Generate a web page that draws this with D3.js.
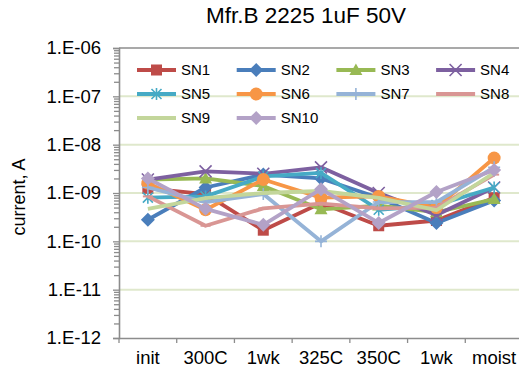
<!DOCTYPE html>
<html><head><meta charset="utf-8">
<script src="https://cdn.jsdelivr.net/npm/d3@7"></script>
<style>html,body{margin:0;padding:0;background:#fff;}svg{display:block;font-family:"Liberation Sans",Arial,sans-serif;}</style>
</head><body>
<script>
const title = "Mfr.B 2225 1uF 50V";
const yTitle = "current, A";
const categories = ["init","300C","1wk","325C","350C","1wk","moist"];
const yTickValues = [1e-12,1e-11,1e-10,1e-9,1e-8,1e-7,1e-6];
const yTickLabels = ["1.E-12","1.E-11","1.E-10","1.E-09","1.E-08","1.E-07","1.E-06"];
const seriesNames = ["SN1","SN2","SN3","SN4","SN5","SN6","SN7","SN8","SN9","SN10"];
const SN1  = [1.25e-9, 9.5e-10, 1.7e-10, 6.2e-10, 2.1e-10, 2.7e-10, 8.0e-10];
const SN2  = [2.8e-10, 1.3e-9, 2.4e-9, 2.0e-9, 8.0e-10, 2.4e-10, 7.0e-10];
const SN3  = [1.9e-9, 2.0e-9, 1.4e-9, 4.6e-10, 5.5e-10, 4.0e-10, 7.5e-10];
const SN4  = [1.9e-9, 2.8e-9, 2.5e-9, 3.4e-9, 1.0e-9, 3.5e-10, 1.3e-9];
const SN5  = [8.0e-10, 8.5e-10, 2.2e-9, 2.6e-9, 4.5e-10, 5.6e-10, 1.3e-9];
const SN6  = [1.6e-9, 4.5e-10, 1.9e-9, 8.0e-10, 8.5e-10, 5.0e-10, 5.3e-9];
const SN7  = [1.3e-9, 6.5e-10, 9.5e-10, 1.0e-10, 6.5e-10, 6.5e-10, 3.4e-9];
const SN8  = [8.5e-10, 2.1e-10, 4.8e-10, 6.0e-10, 4.8e-10, 5.0e-10, 2.4e-9];
const SN9  = [4.7e-10, 7.8e-10, 1.0e-9, 1.1e-9, 7.9e-10, 4.4e-10, 2.6e-9];
const SN10 = [2.0e-9, 4.7e-10, 2.2e-10, 1.2e-9, 2.4e-10, 1.05e-9, 3.0e-9];
const seriesValues = [SN1,SN2,SN3,SN4,SN5,SN6,SN7,SN8,SN9,SN10];
const colors = ["#BE4B48","#4A7EBB","#98B954","#7D60A0","#46AAC5","#F79646","#95B3D7","#D99694","#C3D69B","#B3A2C7"];
const markers = ["square","diamond","triangle","x","star","circle","plus","dash","none","diamond"];

const W = 519, H = 375;
const svg = d3.select("body").append("svg").attr("width", W).attr("height", H);

const pLeft = 119, pRight = 523, pTop = 48, pBottom = 338;
const x = d3.scaleBand().domain(d3.range(categories.length)).range([pLeft, pRight]);
const y = d3.scaleLog().domain([1e-12, 1e-6]).range([pBottom, pTop]);

// gridlines
svg.append("g").selectAll("line").data(yTickValues.filter(v => v > 1e-12 && v < 1e-6)).join("line")
  .attr("x1", pLeft).attr("x2", pRight).attr("y1", d => y(d)).attr("y2", d => y(d))
  .attr("stroke", "#dfe8cc").attr("stroke-width", 2);
// top border
svg.append("line").attr("x1", pLeft).attr("x2", pRight).attr("y1", y(1e-6)).attr("y2", y(1e-6))
  .attr("stroke", "#8c8c8c").attr("stroke-width", 1.3);

// minor ticks
const minor = [];
for (let e = -12; e < -6; e++) for (let m = 2; m <= 9; m++) minor.push(m * Math.pow(10, e));
const yMinor = svg.append("g").attr("transform", `translate(${pLeft},0)`)
  .call(d3.axisLeft(y).tickValues(minor).tickSize(5).tickFormat(""));
yMinor.select(".domain").remove();
yMinor.selectAll("line").attr("stroke", "#8c8c8c").attr("stroke-width", 1.3);

// y axis
const yAxis = svg.append("g").attr("transform", `translate(${pLeft},0)`)
  .call(d3.axisLeft(y).tickValues(yTickValues).tickSize(6).tickPadding(12)
    .tickFormat((d, i) => yTickLabels[i]));
yAxis.select(".domain").attr("stroke", "#8c8c8c").attr("stroke-width", 1.6);
yAxis.selectAll("line").attr("stroke", "#8c8c8c").attr("stroke-width", 1.3);
yAxis.selectAll("text").attr("font-size", 18.5).attr("fill", "#000")
  .attr("font-family", "Liberation Sans, Arial, sans-serif");

// x axis
const xAxis = svg.append("g").attr("transform", `translate(0,${pBottom})`)
  .call(d3.axisBottom(x).tickSize(0).tickPadding(13).tickFormat(i => categories[i]));
xAxis.select(".domain").attr("stroke", "#8c8c8c").attr("stroke-width", 1.6);
xAxis.selectAll("text").attr("font-size", 18.5).attr("fill", "#000")
  .attr("font-family", "Liberation Sans, Arial, sans-serif");
svg.append("g").selectAll("line").data(d3.range(categories.length)).join("line")
  .attr("x1", d => x(d)).attr("x2", d => x(d)).attr("y1", pBottom).attr("y2", pBottom + 5)
  .attr("stroke", "#8c8c8c").attr("stroke-width", 1.3);

// titles
svg.append("text").attr("x", 306).attr("y", 23).attr("text-anchor", "middle")
  .attr("font-size", 22.5).text(title);
svg.append("text").attr("transform", `translate(25,197) rotate(-90)`).attr("text-anchor", "middle")
  .attr("font-size", 18).text(yTitle);

function drawMarker(g, type, color) {
  if (type === "square") g.append("rect").attr("x", -5.5).attr("y", -5.5).attr("width", 11).attr("height", 11).attr("fill", color);
  else if (type === "diamond") g.append("path").attr("d", "M0,-7L7,0L0,7L-7,0Z").attr("fill", color);
  else if (type === "triangle") g.append("path").attr("d", "M0,-6.5L6.5,5L-6.5,5Z").attr("fill", color);
  else if (type === "circle") g.append("circle").attr("r", 6.5).attr("fill", color);
  else if (type === "x") g.append("path").attr("d", "M-6,-6L6,6M-6,6L6,-6").attr("stroke", color).attr("stroke-width", 1.6).attr("fill", "none");
  else if (type === "star") g.append("path").attr("d", "M-5,-5L5,5M-5,5L5,-5M0,-6L0,6").attr("stroke", color).attr("stroke-width", 1.6).attr("fill", "none");
  else if (type === "plus") g.append("path").attr("d", "M-6,0L6,0M0,-6L0,6").attr("stroke", color).attr("stroke-width", 1.6).attr("fill", "none");
  else if (type === "dash") g.append("path").attr("d", "M-5,0L5,0").attr("stroke", color).attr("stroke-width", 2).attr("fill", "none");
}

const line = d3.line().x((d, i) => x(i) + x.bandwidth() / 2).y(d => y(d));
const plot = svg.append("g");
seriesValues.forEach((vals, s) => {
  const g = plot.append("g");
  g.append("path").attr("d", line(vals)).attr("fill", "none").attr("stroke", colors[s])
    .attr("stroke-width", 3.8).attr("stroke-linejoin", "round");
  vals.forEach((v, i) => {
    const mg = g.append("g").attr("transform", `translate(${x(i) + x.bandwidth() / 2},${y(v)})`);
    drawMarker(mg, markers[s], colors[s]);
  });
});

// legend
const legend = svg.append("g");
seriesNames.forEach((name, s) => {
  const col = s % 4, row = Math.floor(s / 4);
  const lx = 137 + col * 99.7, ly = 70 + row * 24;
  const g = legend.append("g").attr("transform", `translate(${lx},${ly})`);
  g.append("line").attr("x1", 0).attr("x2", 39).attr("y1", 0).attr("y2", 0)
    .attr("stroke", colors[s]).attr("stroke-width", 3.8);
  const mg = g.append("g").attr("transform", "translate(19.5,0)");
  drawMarker(mg, markers[s], colors[s]);
  g.append("text").attr("x", 44).attr("y", 0).attr("dy", "0.35em").attr("font-size", 15).text(name);
});
</script>
</body></html>
